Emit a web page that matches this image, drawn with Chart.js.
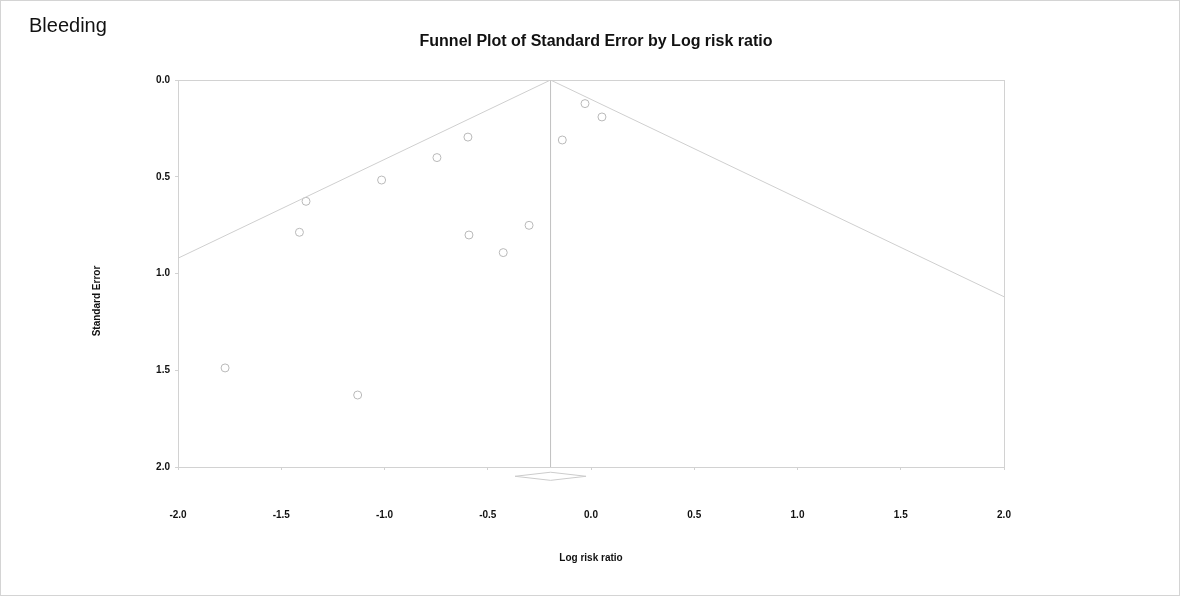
<!DOCTYPE html>
<html>
<head>
<meta charset="utf-8">
<script src="https://cdn.jsdelivr.net/npm/chart.js@4/dist/chart.umd.min.js"></script>
<style>
  body { margin: 0; background: #fff; font-family: "Liberation Sans", Arial, sans-serif; }
  #wrap { position: relative; width: 1180px; height: 596px; overflow: hidden; }
  #frame { position: absolute; left: 0; top: 0; width: 1180px; height: 596px; box-sizing: border-box; border: 1px solid #d4d4d4; pointer-events: none; }
  canvas { position: absolute; left: 0; top: 0; }
  .lbl { position: absolute; white-space: nowrap; color: #111; }
  #page-title { left: 29px; top: 15px; font-size: 20px; line-height: 20px; }
  #chart-title { left: 396px; top: 33px; width: 400px; text-align: center; font-size: 16px; line-height: 16px; font-weight: bold; }
  #y-title { left: -3.5px; top: 295px; width: 200px; height: 12px; text-align: center; font-size: 10px; line-height: 12px; font-weight: bold; transform: rotate(-90deg); }
</style>
</head>
<body>
<div id="wrap">
  <canvas id="funnel" width="1180" height="596"></canvas>
  <div class="lbl" id="page-title">Bleeding</div>
  <div class="lbl" id="chart-title">Funnel Plot of Standard Error by Log risk ratio</div>
  <div class="lbl" id="y-title">Standard Error</div>
  <div id="frame"></div>
</div>
<script>
// study estimates (log risk ratio, standard error)
var studyLogRR = [-1.772, -1.412, -1.380, -1.130, -1.014, -0.746, -0.596, -0.591, -0.425, -0.300, -0.139, -0.029, 0.053];
var studySE    = [ 1.488,  0.787,  0.627,  1.628,  0.517,  0.401,  0.295,  0.801,  0.892,  0.751,  0.310,  0.122, 0.191];

// funnel limits and pooled estimate
var funnelX = [-2.0, -0.196, 2.0];
var funnelY = [0.921, 0.0, 1.12];
var meanX = [-0.196, -0.196];
var meanY = [0.0, 2.0];
var diamondX = [-0.368, -0.196, -0.024, -0.196, -0.368];
var diamondY = [2.048, 2.027, 2.048, 2.069, 2.048];

var xTicks = [-2.0, -1.5, -1.0, -0.5, 0.0, 0.5, 1.0, 1.5, 2.0];
var yTicks = [0.0, 0.5, 1.0, 1.5, 2.0];

function pairs(xs, ys) {
    var out = [];
    for (var i = 0; i < xs.length; i++) {
        out.push({x: xs[i], y: ys[i]});
    }
    return out;
}

var boxPlugin = {
    id: 'plotBox',
    beforeDatasetsDraw: function(chart) {
        var a = chart.chartArea;
        var ctx = chart.ctx;
        ctx.save();
        ctx.strokeStyle = '#d2d2d2';
        ctx.lineWidth = 1;
        ctx.strokeRect(Math.round(a.left) + 0.5, Math.round(a.top) + 0.5, Math.round(a.right - a.left), Math.round(a.bottom - a.top));
        ctx.restore();
    }
};

var tickFont = { family: '"Liberation Sans", Arial, sans-serif', size: 10, weight: 'bold' };

var context = document.getElementById('funnel').getContext('2d');
var myChart = new Chart(context, {
    type: 'scatter',
    data: {
        datasets: [
            {
                label: 'funnel',
                type: 'line',
                data: pairs(funnelX, funnelY),
                borderColor: '#cfcfcf',
                borderWidth: 1,
                pointRadius: 0,
                fill: false,
                tension: 0
            },
            {
                label: 'mean',
                type: 'line',
                data: pairs(meanX, meanY),
                borderColor: '#c4c4c4',
                borderWidth: 1,
                pointRadius: 0,
                fill: false
            },
            {
                label: 'pooled',
                type: 'line',
                data: pairs(diamondX, diamondY),
                borderColor: '#cccccc',
                borderWidth: 1,
                pointRadius: 0,
                fill: false,
                clip: false
            },
            {
                label: 'studies',
                data: pairs(studyLogRR, studySE),
                pointStyle: 'circle',
                pointRadius: 4,
                pointBorderWidth: 1,
                pointBorderColor: '#b9b9b9',
                pointBackgroundColor: 'rgba(255,255,255,0)'
            }
        ]
    },
    options: {
        responsive: false,
        animation: false,
        devicePixelRatio: 1,
        layout: { padding: { left: 0, top: 80, right: 176, bottom: 0 } },
        plugins: {
            legend: { display: false },
            tooltip: { enabled: false },
            title: { display: false }
        },
        scales: {
            x: {
                type: 'linear',
                min: -2,
                max: 2,
                afterFit: function(scale) { scale.height = 129; },
                afterBuildTicks: function(scale) {
                    scale.ticks = xTicks.map(function(v) { return {value: v}; });
                },
                border: { display: false },
                grid: { drawOnChartArea: false, drawTicks: true, tickLength: 3, tickColor: '#d2d2d2' },
                ticks: {
                    padding: 39,
                    color: '#111',
                    font: tickFont,
                    maxRotation: 0,
                    callback: function(v) { return Number(v).toFixed(1); }
                },
                title: {
                    display: true,
                    text: 'Log risk ratio',
                    color: '#111',
                    font: tickFont,
                    padding: { top: 0, bottom: 32 }
                }
            },
            y: {
                type: 'linear',
                reverse: true,
                min: 0,
                max: 2,
                afterFit: function(scale) { scale.width = 178; },
                afterBuildTicks: function(scale) {
                    scale.ticks = yTicks.map(function(v) { return {value: v}; });
                },
                border: { display: false },
                grid: { drawOnChartArea: false, drawTicks: true, tickLength: 3, tickColor: '#d2d2d2' },
                ticks: {
                    padding: 5,
                    color: '#111',
                    font: tickFont,
                    callback: function(v) { return Number(v).toFixed(1); }
                },
                title: { display: false }
            }
        }
    },
    plugins: [boxPlugin]
});
</script>
</body>
</html>
